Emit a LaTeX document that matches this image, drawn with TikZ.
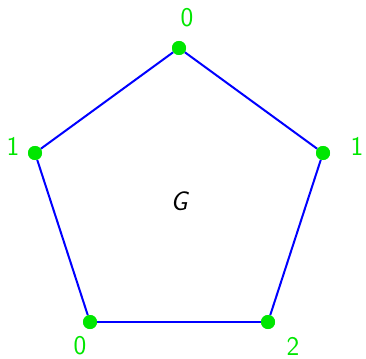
\documentclass[tikz,border=0pt]{standalone}
\usepackage{tikz}
\usetikzlibrary{positioning}
\definecolor{vgreen}{RGB}{0,230,0}
\tikzset{
  vertex/.style={circle, fill=vgreen, draw=none, minimum size=14pt, inner sep=0pt},
  vlabel/.style={text=vgreen, font=\fontsize{27}{32}\selectfont\sffamily, inner sep=0pt},
  edge/.style={draw=blue, line width=2pt},
}
\begin{document}
\begin{tikzpicture}[x=1pt, y=-1pt]
  \useasboundingbox (0,0) rectangle (366,358);
  \node[vertex] (v1) at (179,48) {};
  \node[vertex] (v2) at (323,153) {};
  \node[vertex] (v3) at (268,322) {};
  \node[vertex] (v4) at (90,322) {};
  \node[vertex] (v5) at (35,153) {};
  \foreach \a/\b in {v1/v2, v2/v3, v3/v4, v4/v5, v5/v1} {\draw[edge] (\a) -- (\b);}
  \foreach \v in {v1, v2, v3, v4, v5} {\node[vertex] at (\v) {};}
  \node[vlabel] (l1) at (187,18) {0};
  \node[vlabel] (l2) at (357,146) {1};
  \node[vlabel] (l3) at (293,346) {2};
  \node[vlabel] (l4) at (80,346) {0};
  \node[vlabel] (l5) at (13,146) {1};
  \node[font=\fontsize{27}{32}\selectfont\sffamily\itshape] (g) at (179,201) {G};
\end{tikzpicture}
\end{document}
